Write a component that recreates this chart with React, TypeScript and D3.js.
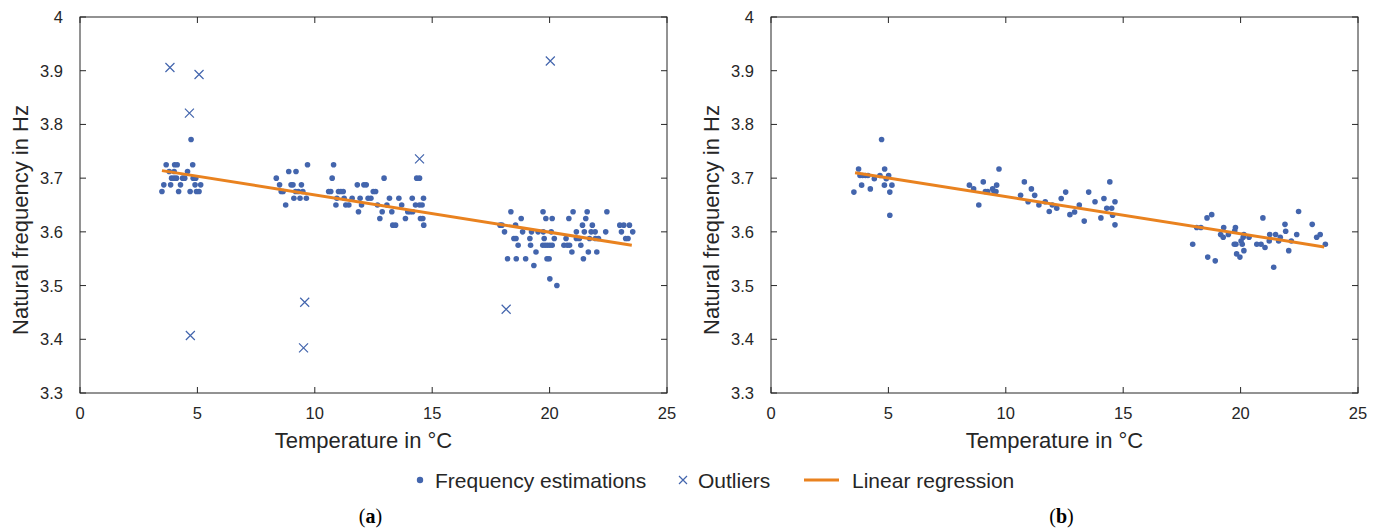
import * as d3 from 'd3';

// temperature (°C), natural frequency (Hz)
const estimationsA: [number, number][] = [
  [4.73, 3.772],
  [3.67, 3.725], [4.03, 3.725], [4.14, 3.725], [4.8, 3.725],
  [3.8, 3.7125], [4.01, 3.7125], [4.58, 3.7125],
  [3.9, 3.7], [4.01, 3.7], [4.11, 3.7], [4.37, 3.7], [4.46, 3.7], [4.82, 3.7], [4.93, 3.7],
  [3.57, 3.6875], [3.86, 3.6875], [4.28, 3.6875], [4.9, 3.6875], [5.14, 3.6875],
  [3.49, 3.675], [4.2, 3.675], [4.69, 3.675], [4.96, 3.675], [5.07, 3.675],
  [9.69, 3.725], [10.8, 3.725],
  [8.89, 3.7125], [9.2, 3.7125],
  [8.36, 3.7], [10.74, 3.7], [12.95, 3.7], [14.34, 3.7], [14.46, 3.7],
  [8.5, 3.6875], [8.99, 3.6875], [9.07, 3.6875], [9.43, 3.6875], [11.81, 3.6875], [12.09, 3.6875], [12.19, 3.6875],
  [8.57, 3.675], [8.65, 3.675], [9.18, 3.675], [9.3, 3.675], [9.49, 3.675], [10.59, 3.675], [10.68, 3.675],
  [11.01, 3.675], [11.11, 3.675], [11.21, 3.675], [12.49, 3.675], [12.59, 3.675],
  [9.11, 3.6625], [9.37, 3.6625], [9.64, 3.6625], [10.94, 3.6625], [11.25, 3.6625], [11.59, 3.6625], [11.93, 3.6625],
  [12.27, 3.6625], [12.39, 3.6625], [13.18, 3.6625], [13.58, 3.6625], [14.15, 3.6625], [14.63, 3.6625],
  [8.76, 3.65], [10.9, 3.65], [11.32, 3.65], [11.45, 3.65], [11.99, 3.65], [12.67, 3.65], [13.07, 3.65],
  [13.7, 3.65], [14.29, 3.65], [14.46, 3.65], [14.57, 3.65],
  [11.86, 3.6375], [12.87, 3.6375], [13.28, 3.6375], [13.96, 3.6375], [14.06, 3.6375], [14.17, 3.6375],
  [12.77, 3.625], [13.86, 3.625], [14.5, 3.625], [14.6, 3.625],
  [13.32, 3.6125], [13.44, 3.6125], [14.64, 3.6125],
  [18.35, 3.6375], [19.72, 3.6375], [21.0, 3.6375], [21.6, 3.6375], [22.44, 3.6375],
  [18.79, 3.625], [19.84, 3.625], [20.11, 3.625], [20.82, 3.625], [21.54, 3.625],
  [17.89, 3.6125], [17.97, 3.6125], [18.55, 3.6125], [21.4, 3.6125], [21.82, 3.6125], [22.99, 3.6125], [23.16, 3.6125], [23.4, 3.6125],
  [18.08, 3.6], [18.85, 3.6], [19.23, 3.6], [19.51, 3.6], [19.73, 3.6], [20.07, 3.6], [21.14, 3.6],
  [21.48, 3.6], [21.77, 3.6], [21.94, 3.6], [22.39, 3.6], [23.06, 3.6], [23.54, 3.6],
  [18.48, 3.5875], [18.57, 3.5875], [19.16, 3.5875], [19.77, 3.5875], [20.2, 3.5875], [20.7, 3.5875], [21.14, 3.5875],
  [21.27, 3.5875], [21.7, 3.5875], [21.95, 3.5875], [22.08, 3.5875], [23.24, 3.5875], [23.34, 3.5875],
  [18.66, 3.575], [19.19, 3.575], [19.71, 3.575], [19.81, 3.575], [19.91, 3.575], [20.01, 3.575], [20.11, 3.575],
  [20.61, 3.575], [20.75, 3.575], [20.85, 3.575], [21.33, 3.575],
  [19.42, 3.5625], [20.95, 3.5625], [21.65, 3.5625], [22.01, 3.5625],
  [18.21, 3.55], [18.58, 3.55], [18.98, 3.55], [19.89, 3.55], [19.98, 3.55], [21.44, 3.55],
  [19.33, 3.5375], [20.01, 3.5125], [20.31, 3.5],
];

const outliersA: [number, number][] = [
  [3.83, 3.906], [5.07, 3.893], [4.66, 3.821], [4.7, 3.407], [9.57, 3.469],
  [9.52, 3.384], [14.46, 3.736], [18.15, 3.456], [20.03, 3.918],
];

const estimationsB: [number, number][] = [
  [4.71, 3.772], [3.73, 3.717], [4.84, 3.717],
  [3.79, 3.705], [3.9, 3.705], [4.02, 3.705], [4.13, 3.705], [4.64, 3.705], [5.01, 3.705],
  [4.4, 3.699], [4.91, 3.699], [3.86, 3.687], [4.83, 3.687], [5.15, 3.687],
  [4.23, 3.68], [3.53, 3.674], [5.06, 3.674], [5.06, 3.631],
  [8.45, 3.687], [8.63, 3.68], [9.04, 3.693], [8.85, 3.65], [9.13, 3.675], [9.23, 3.675],
  [9.44, 3.68], [9.5, 3.675], [9.58, 3.675], [9.61, 3.687], [9.71, 3.717], [10.63, 3.668],
  [10.79, 3.693], [11.09, 3.68], [11.23, 3.668], [10.95, 3.656], [11.41, 3.65], [11.68, 3.656],
  [11.85, 3.638], [11.98, 3.65], [12.17, 3.644], [12.36, 3.662], [12.55, 3.674], [12.73, 3.632],
  [12.93, 3.637], [13.13, 3.65], [13.34, 3.62], [13.53, 3.674], [13.8, 3.656], [14.05, 3.626],
  [14.18, 3.662], [14.3, 3.644], [14.43, 3.693], [14.51, 3.644], [14.55, 3.631], [14.65, 3.656], [14.65, 3.613],
  [17.96, 3.577], [18.13, 3.608], [18.31, 3.608], [18.57, 3.626], [18.77, 3.632], [18.6, 3.553],
  [18.92, 3.546], [19.15, 3.595], [19.26, 3.59], [19.28, 3.608], [19.48, 3.595], [19.75, 3.602],
  [19.78, 3.608], [19.73, 3.577], [19.8, 3.577], [19.83, 3.559], [19.97, 3.553], [20.02, 3.583],
  [20.07, 3.577], [20.11, 3.59], [20.14, 3.595], [20.14, 3.565], [20.36, 3.59], [20.69, 3.577],
  [20.87, 3.577], [20.95, 3.626], [21.04, 3.571], [21.24, 3.595], [21.22, 3.583], [21.41, 3.534],
  [21.49, 3.595], [21.62, 3.583], [21.69, 3.59], [21.89, 3.614], [21.92, 3.601], [22.05, 3.565],
  [22.16, 3.583], [22.39, 3.595], [22.47, 3.638], [23.05, 3.614], [23.24, 3.59], [23.39, 3.595], [23.61, 3.577],
];

const regressionA: [number, number][] = [[3.49, 3.714], [23.5, 3.575]];
const regressionB: [number, number][] = [[3.58, 3.71], [23.56, 3.572]];

const xTicks = [0, 5, 10, 15, 20, 25];
const yTicks = [3.3, 3.4, 3.5, 3.6, 3.7, 3.8, 3.9, 4];
const legendLabels = ['Frequency estimations', 'Outliers', 'Linear regression'];

const BLUE = '#4365ad';
const ORANGE = '#e9821f';
const INK = '#262626';
const FONT = '"Liberation Sans", Arial, Helvetica, sans-serif';

type PanelProps = {
  left: number;
  est: [number, number][];
  out: [number, number][];
  reg: [number, number][];
  tag: string;
};

const Panel = ({ left, est, out, reg, tag }: PanelProps) => {
  const width = 587;
  const top = 17;
  const bottom = 393;
  const x = d3.scaleLinear().domain([0, 25]).range([left, left + width]);
  const y = d3.scaleLinear().domain([3.3, 4]).range([bottom, top]);
  const line = d3
    .line<[number, number]>()
    .x((d) => x(d[0]))
    .y((d) => y(d[1]));
  const tl = 6;

  return (
    <g>
      {/* box */}
      <rect x={left} y={top} width={width} height={bottom - top} fill="none" stroke={INK} strokeWidth={1} />
      {xTicks.map((t) => (
        <g key={'x' + t}>
          <line x1={x(t)} x2={x(t)} y1={bottom} y2={bottom - tl} stroke={INK} />
          <line x1={x(t)} x2={x(t)} y1={top} y2={top + tl} stroke={INK} />
          <text x={x(t)} y={413} textAnchor="middle" dominantBaseline="central" fontSize={16.5} fill={INK}>
            {t}
          </text>
        </g>
      ))}
      {yTicks.map((t) => (
        <g key={'y' + t}>
          <line x1={left} x2={left + tl} y1={y(t)} y2={y(t)} stroke={INK} />
          <line x1={left + width} x2={left + width - tl} y1={y(t)} y2={y(t)} stroke={INK} />
          <text x={left - 17} y={y(t)} textAnchor="end" dominantBaseline="central" fontSize={16.5} fill={INK}>
            {t}
          </text>
        </g>
      ))}
      <text x={left + width / 2 - 10} y={440} textAnchor="middle" dominantBaseline="central" fontSize={22} fill={INK}>
        Temperature in °C
      </text>
      <text
        transform={`translate(${left - 60},220) rotate(-90)`}
        textAnchor="middle"
        dominantBaseline="central"
        fontSize={22}
        fill={INK}
      >
        Natural frequency in Hz
      </text>

      {est.map((d, i) => (
        <circle key={'e' + i} cx={x(d[0])} cy={y(d[1])} r={2.8} fill={BLUE} />
      ))}
      {out.map((d, i) => (
        <path
          key={'o' + i}
          d={`M${x(d[0]) - 4.5},${y(d[1]) - 4.5}L${x(d[0]) + 4.5},${y(d[1]) + 4.5}M${x(d[0]) - 4.5},${y(d[1]) + 4.5}L${x(d[0]) + 4.5},${y(d[1]) - 4.5}`}
          stroke={BLUE}
          strokeWidth={1.2}
          fill="none"
        />
      ))}
      <path d={line(reg) || ''} stroke={ORANGE} strokeWidth={3} fill="none" />

      <text x={left + width / 2 - 3} y={516} textAnchor="middle" dominantBaseline="central" fontSize={20} fill="#000" fontFamily='"Liberation Serif", "Times New Roman", serif'>
        (<tspan fontWeight="bold">{tag}</tspan>)
      </text>
    </g>
  );
};

export default function App() {
  const ly = 480;
  return (
    <svg width={1383} height={529} style={{ position: 'absolute', left: 0, top: 0, background: '#fff' }} fontFamily={FONT}>
      <rect width={1383} height={529} fill="#fff" />
      <Panel left={80} est={estimationsA} out={outliersA} reg={regressionA} tag="a" />
      <Panel left={771} est={estimationsB} out={[]} reg={regressionB} tag="b" />

      {/* legend */}
      <circle cx={420} cy={ly} r={3.2} fill={BLUE} />
      <text x={435} y={ly} dominantBaseline="central" fontSize={21} fill={INK}>
        {legendLabels[0]}
      </text>
      <path d={`M${683 - 4},${ly - 4}L${683 + 4},${ly + 4}M${683 - 4},${ly + 4}L${683 + 4},${ly - 4}`} stroke={BLUE} strokeWidth={1.2} />
      <text x={698} y={ly} dominantBaseline="central" fontSize={21} fill={INK}>
        {legendLabels[1]}
      </text>
      <line x1={804} x2={839} y1={ly} y2={ly} stroke={ORANGE} strokeWidth={3} />
      <text x={852} y={ly} dominantBaseline="central" fontSize={21} fill={INK}>
        {legendLabels[2]}
      </text>
    </svg>
  );
}
